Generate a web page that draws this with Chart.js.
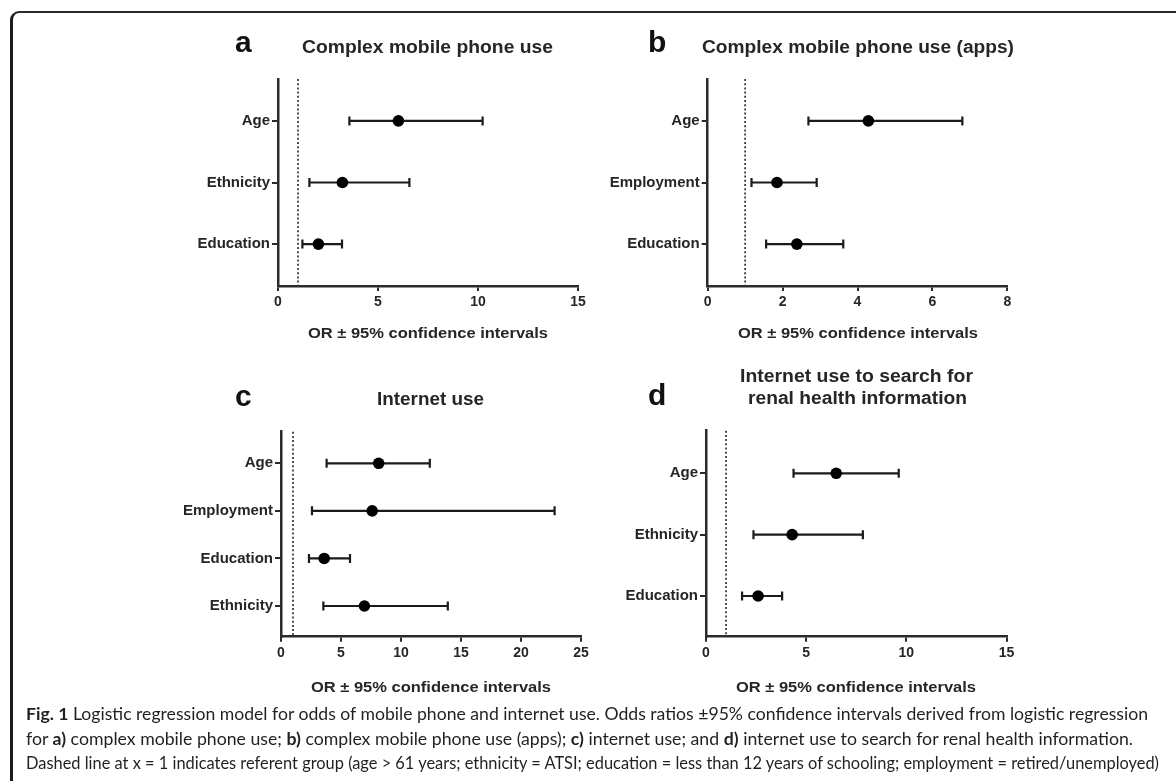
<!DOCTYPE html>
<html>
<head>
<meta charset="utf-8">
<script src="https://cdn.jsdelivr.net/npm/chart.js@4.4.1/dist/chart.umd.min.js"></script>
<style>
  html, body { margin: 0; padding: 0; background: #fff; }
  body { width: 1176px; height: 781px; position: relative; overflow: hidden; }
  #frame {
    position: absolute; left: 10px; top: 11px; width: 1200px; height: 800px;
    border-left: 3px solid #1c1c1c; border-top: 2px solid #2a2a2a;
    border-top-left-radius: 9px; box-sizing: border-box;
  }
  canvas { position: absolute; }
  #caption {
    position: absolute; left: 26px; top: 702px;
    font-family: Lato, "Open Sans", sans-serif; font-size: 17px; line-height: 24.5px;
    color: #231f20;
  }
  .cap-line { white-space: nowrap; width: max-content; transform-origin: 0 0; }
  .cap-line b { font-weight: 700; }
</style>
</head>
<body>
<div id="frame"></div>
<canvas id="panelA" width="430" height="330" style="left:170px;top:20px"></canvas>
<canvas id="panelB" width="430" height="330" style="left:595px;top:20px"></canvas>
<canvas id="panelC" width="430" height="345" style="left:170px;top:360px"></canvas>
<canvas id="panelD" width="430" height="345" style="left:595px;top:360px"></canvas>
<div id="caption">
  <div class="cap-line" data-w="1122"><b>Fig. 1</b> Logistic regression model for odds of mobile phone and internet use. Odds ratios ±95% confidence intervals derived from logistic regression</div>
  <div class="cap-line" data-w="1107">for <b>a)</b> complex mobile phone use; <b>b)</b> complex mobile phone use (apps); <b>c)</b> internet use; and <b>d)</b> internet use to search for renal health information.</div>
  <div class="cap-line" data-w="1133">Dashed line at x = 1 indicates referent group (age &gt; 61 years; ethnicity = ATSI; education = less than 12 years of schooling; employment = retired/unemployed)</div>
</div>
<script>
// ---- data: odds ratios with lower / upper 95% CI bounds ----
const catsA = ['Age', 'Ethnicity', 'Education'];
const orA   = [6.02, 3.22, 2.02];
const loA   = [3.57, 1.57, 1.22];
const hiA   = [10.23, 6.57, 3.20];
const xTicksA = [0, 5, 10, 15];

const catsB = ['Age', 'Employment', 'Education'];
const orB   = [4.29, 1.85, 2.38];
const loB   = [2.69, 1.17, 1.56];
const hiB   = [6.80, 2.91, 3.62];
const xTicksB = [0, 2, 4, 6, 8];

const catsC = ['Age', 'Employment', 'Education', 'Ethnicity'];
const orC   = [8.14, 7.60, 3.60, 6.95];
const loC   = [3.80, 2.58, 2.33, 3.53];
const hiC   = [12.40, 22.80, 5.75, 13.90];
const xTicksC = [0, 5, 10, 15, 20, 25];

const catsD = ['Age', 'Ethnicity', 'Education'];
const orD   = [6.50, 4.30, 2.60];
const loD   = [4.37, 2.37, 1.80];
const hiD   = [9.62, 7.83, 3.80];
const xTicksD = [0, 5, 10, 15];

const referentOR = 1;
const axisTitle = 'OR \u00B1 95% confidence intervals';

// ---- drawing helpers ----
const INK = '#1b1b1b';
const TEXT = '#262626';
const FONT = '"Liberation Sans", Arial, sans-serif';

function fitText(ctx, text, left, base, width, font, color) {
  ctx.save();
  ctx.font = font;
  const w = ctx.measureText(text).width;
  ctx.translate(left, base);
  if (width) ctx.scale(width / w, 1);
  ctx.fillStyle = color;
  ctx.textAlign = 'left';
  ctx.textBaseline = 'alphabetic';
  ctx.fillText(text, 0, 0);
  ctx.restore();
}

// Error bars and the dotted referent line, drawn under the OR markers
const forestPlugin = {
  id: 'forest',
  beforeDatasetsDraw(chart, args, opts) {
    const { ctx, chartArea, scales: { x, y } } = chart;
    ctx.save();
    // referent line at OR = 1
    const xr = x.getPixelForValue(referentOR);
    ctx.strokeStyle = '#333';
    ctx.lineWidth = 1.7;
    ctx.setLineDash([2, 2.2]);
    ctx.beginPath();
    ctx.moveTo(xr, chartArea.top);
    ctx.lineTo(xr, chartArea.bottom);
    ctx.stroke();
    ctx.setLineDash([]);
    // confidence intervals
    ctx.strokeStyle = INK;
    ctx.lineWidth = 2.2;
    opts.lo.forEach((lo, i) => {
      const yp = y.getPixelForValue(i);
      const x1 = x.getPixelForValue(lo);
      const x2 = x.getPixelForValue(opts.hi[i]);
      ctx.beginPath();
      ctx.moveTo(x1, yp); ctx.lineTo(x2, yp);
      ctx.moveTo(x1, yp - 4.5); ctx.lineTo(x1, yp + 4.5);
      ctx.moveTo(x2, yp - 4.5); ctx.lineTo(x2, yp + 4.5);
      ctx.stroke();
    });
    ctx.restore();
  },
  afterDraw(chart, args, opts) {
    const { ctx } = chart;
    const ox = opts.origin[0], oy = opts.origin[1];
    fitText(ctx, opts.letter.text, opts.letter.left - ox, opts.letter.base - oy, 0,
            'bold 30px ' + FONT, '#111');
    opts.titles.forEach(t => {
      fitText(ctx, t.text, t.left - ox, t.base - oy, t.width, 'bold 18px ' + FONT, TEXT);
    });
    const a = opts.axis;
    fitText(ctx, axisTitle, a.left - ox, a.base - oy, a.width, 'bold 15px ' + FONT, TEXT);
  }
};

function makePanel(id, spec) {
  const [cx, cy, cw, ch] = spec.canvas;
  const [L, T, R, B] = spec.area;
  const Y_W = 105, X_H = 40;
  const cats = spec.cats;
  return new Chart(document.getElementById(id), {
    type: 'scatter',
    data: {
      datasets: [{
        data: cats.map((c, i) => ({ x: spec.or[i], y: i })),
        backgroundColor: '#000',
        borderColor: '#000',
        pointRadius: 5.8,
        pointHoverRadius: 5.8,
        borderWidth: 0
      }]
    },
    plugins: [forestPlugin],
    options: {
      responsive: false,
      animation: false,
      devicePixelRatio: 1,
      layout: { padding: { left: L - cx - Y_W, top: T - cy, right: cx + cw - R, bottom: cy + ch - B - X_H } },
      plugins: {
        legend: { display: false },
        tooltip: { enabled: false },
        forest: {
          lo: spec.lo, hi: spec.hi, origin: [cx, cy],
          letter: spec.letter, titles: spec.titles, axis: spec.axis
        }
      },
      scales: {
        x: {
          type: 'linear', position: 'bottom',
          min: spec.xTicks[0], max: spec.xTicks[spec.xTicks.length - 1],
          afterBuildTicks: ax => { ax.ticks = spec.xTicks.map(v => ({ value: v })); },
          afterFit: s => { s.height = X_H; },
          border: { display: true, color: '#2b2b2b', width: 2.5 },
          grid: { display: true, drawOnChartArea: false, drawTicks: true, tickLength: 5, color: '#2b2b2b', lineWidth: 2 },
          ticks: { color: TEXT, padding: 3, font: { family: FONT, size: 14, weight: 'bold' } }
        },
        y: {
          type: 'linear', reverse: true,
          min: spec.yRange[0], max: spec.yRange[1],
          afterBuildTicks: ax => { ax.ticks = cats.map((c, i) => ({ value: i })); },
          afterFit: s => { s.width = Y_W; },
          border: { display: true, color: '#2b2b2b', width: 2.5 },
          grid: { display: true, drawOnChartArea: false, drawTicks: true, tickLength: 6, color: '#2b2b2b', lineWidth: 2 },
          ticks: {
            color: TEXT, padding: 2, font: { family: FONT, size: 15, weight: 'bold' },
            callback: v => cats[v]
          }
        }
      }
    }
  });
}

makePanel('panelA', {
  canvas: [170, 20, 430, 330], area: [278, 79, 578, 286], yRange: [-0.68, 2.68],
  cats: catsA, or: orA, lo: loA, hi: hiA, xTicks: xTicksA,
  letter: { text: 'a', left: 235, base: 51.5 },
  titles: [{ text: 'Complex mobile phone use', left: 302, base: 52.5, width: 251 }],
  axis: { left: 308, base: 337.5, width: 240 }
});

makePanel('panelB', {
  canvas: [595, 20, 430, 330], area: [707.7, 79, 1007.3, 286], yRange: [-0.68, 2.68],
  cats: catsB, or: orB, lo: loB, hi: hiB, xTicks: xTicksB,
  letter: { text: 'b', left: 648, base: 51.5 },
  titles: [{ text: 'Complex mobile phone use (apps)', left: 702, base: 52.5, width: 312 }],
  axis: { left: 738, base: 337.5, width: 240 }
});

makePanel('panelC', {
  canvas: [170, 360, 430, 345], area: [281, 431.7, 581, 636.7], yRange: [-0.664, 3.645],
  cats: catsC, or: orC, lo: loC, hi: hiC, xTicks: xTicksC,
  letter: { text: 'c', left: 235, base: 406 },
  titles: [{ text: 'Internet use', left: 377, base: 405, width: 107 }],
  axis: { left: 311, base: 692, width: 240 }
});

makePanel('panelD', {
  canvas: [595, 360, 430, 345], area: [706, 430.7, 1006.5, 636.7], yRange: [-0.694, 2.663],
  cats: catsD, or: orD, lo: loD, hi: hiD, xTicks: xTicksD,
  letter: { text: 'd', left: 648, base: 405 },
  titles: [
    { text: 'Internet use to search for', left: 740, base: 382.3, width: 233 },
    { text: 'renal health information', left: 748, base: 404, width: 219 }
  ],
  axis: { left: 736, base: 692, width: 240 }
});

// Caption lines stretched to their set widths
function fitCaption() {
  document.querySelectorAll('.cap-line').forEach(el => {
    el.style.transform = 'none';
    const w = el.getBoundingClientRect().width;
    const target = parseFloat(el.dataset.w);
    el.style.transform = 'scaleX(' + (target / w) + ')';
  });
}
fitCaption();
if (document.fonts && document.fonts.ready) document.fonts.ready.then(fitCaption);
</script>
</body>
</html>
